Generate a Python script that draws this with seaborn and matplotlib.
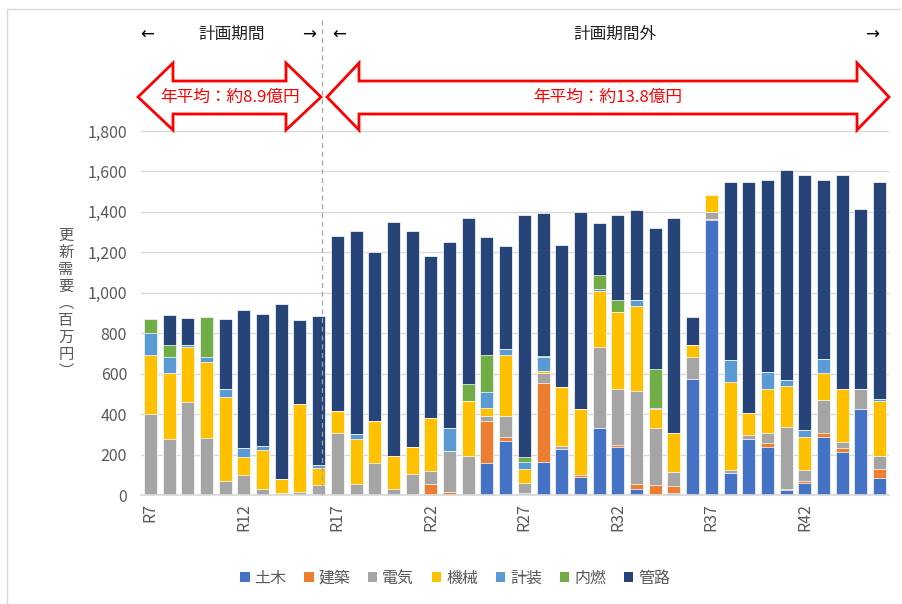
import numpy as np
import pandas as pd
import seaborn as sns
import matplotlib.pyplot as plt
from matplotlib.patches import Patch, Polygon
from matplotlib.lines import Line2D
from matplotlib.ticker import FuncFormatter

# === Data (百万円) R7 - R46
years = [f"R{i}" for i in range(7, 47)]

doboku = [0, 0, 0, 0, 0, 0, 0, 0, 0, 0,
          0, 0, 0, 0, 0, 0, 0, 0, 157, 268,
          12, 165, 226, 90, 329, 236, 31, 0, 8, 576,
          1358, 107, 275, 236, 25, 58, 288, 211, 423, 85]
kenchiku = [0, 0, 0, 0, 0, 0, 0, 0, 0, 0,
            0, 0, 0, 0, 5, 56, 13, 0, 210, 20,
            0, 390, 0, 7, 0, 13, 22, 49, 36, 0,
            8, 0, 0, 19, 5, 10, 20, 19, 0, 42]
denki = [403, 277, 461, 282, 71, 100, 31, 11, 16, 48,
         305, 53, 157, 30, 97, 64, 203, 194, 25, 104,
         46, 49, 18, 0, 404, 276, 462, 282, 71, 104,
         34, 17, 20, 50, 304, 56, 161, 33, 99, 66]
kikai = [288, 327, 272, 377, 415, 88, 190, 68, 434, 87,
         110, 224, 209, 163, 137, 259, 4, 272, 39, 300,
         72, 10, 288, 328, 276, 379, 419, 92, 190, 64,
         82, 436, 112, 220, 204, 164, 135, 259, 4, 271]
keiso = [111, 76, 8, 24, 36, 44, 23, 0, 0, 11,
         0, 24, 0, 0, 0, 0, 112, 0, 79, 28,
         31, 66, 0, 0, 11, 0, 28, 7, 0, 0,
         0, 110, 0, 83, 30, 33, 68, 0, 0, 12]
nainen = [66, 61, 0, 195, 0, 0, 0, 0, 0, 0,
          0, 0, 0, 0, 0, 0, 0, 82, 182, 0,
          25, 6, 0, 0, 67, 59, 0, 192, 0, 0,
          0, 0, 0, 0, 0, 0, 0, 0, 0, 0]
kanro = [0, 148, 132, 0, 346, 685, 653, 864, 414, 738,
         866, 1006, 834, 1156, 1068, 802, 919, 824, 583, 510,
         1197, 707, 703, 973, 258, 424, 446, 699, 1067, 134,
         0, 880, 1143, 952, 1038, 1262, 886, 1062, 887, 1074]

series_names = ["土木", "建築", "電気", "機械", "計装", "内燃", "管路"]
series_vals = [doboku, kenchiku, denki, kikai, keiso, nainen, kanro]
colors = ["#4472C4", "#ED7D31", "#A5A5A5", "#FFC000", "#5B9BD5", "#70AD47", "#264478"]

sns.set_theme(style="white")
plt.rcParams['font.family'] = ['Noto Sans CJK JP', 'DejaVu Sans']

df = pd.DataFrame(dict(zip(series_names, series_vals)), index=years)
cum = df.cumsum(axis=1)

fig = plt.figure(figsize=(9.02, 6.04), dpi=100)
W, H = 902, 604
ax = fig.add_axes([141 / W, 1 - 495 / H, 748 / W, 364 / H])

# === Stacked bars: draw cumulative layers from top to bottom
for name, col in reversed(list(zip(series_names, colors))):
    sns.barplot(x=years, y=cum[name].values, order=years, color=col, saturation=1,
                width=0.7, edgecolor="white", linewidth=0.5, ax=ax, zorder=3)

ax.set_ylim(0, 1800)
ax.set_xlim(-0.5, len(years) - 0.5)
ax.set_yticks(range(0, 1801, 200))
ax.yaxis.set_major_formatter(FuncFormatter(lambda v, p: f"{int(v):,}"))
ax.grid(axis="y", color="#D9D9D9", linewidth=1, zorder=0)
ax.set_axisbelow(True)
for s in ["top", "right", "left"]:
    ax.spines[s].set_visible(False)
ax.spines["bottom"].set_color("#D9D9D9")
ax.spines["bottom"].set_zorder(4)

tick_pos = list(range(0, len(years), 5))
ax.set_xticks(tick_pos)
ax.set_xticklabels([years[i] for i in tick_pos], rotation=90, fontsize=11.5, color="#595959")
ax.tick_params(axis="both", length=0, pad=6)
ax.tick_params(axis="y", labelsize=11.5, labelcolor="#595959", pad=10)
ax.set_xlabel("")
ax.set_ylabel("")

# y label, vertical text
fig.text(66 / W, 1 - 303 / H, "\n".join("更新需要︵百万円︶"), ha="center", va="center",
         fontsize=11, color="#595959", linespacing=1.0)

# === Divider between plan period and outside
fig.add_artist(Line2D([322 / W, 322 / W], [1 - 20 / H, 1 - 495 / H], color="#A6A6A6",
                      linestyle=(0, (4, 3)), linewidth=0.9))

# === Header annotations
def fx(x):
    return x / W

def fy(y):
    return 1 - y / H

for x, t in [(147, "←"), (309, "→"), (339, "←"), (872, "→")]:
    fig.text(fx(x), fy(35), t, ha="center", va="center", fontsize=12, color="black",
             family=["DejaVu Sans"])
fig.text(fx(232), fy(34), "計画期間", ha="center", va="center", fontsize=12, color="#222222")
fig.text(fx(615), fy(34), "計画期間外", ha="center", va="center", fontsize=12, color="#222222")


def double_arrow(x0, x1, head):
    yt, ys0, yc, ys1, yb = 63, 81, 97, 114, 130
    pts = [(x0, yc), (x0 + head, yt), (x0 + head, ys0), (x1 - head, ys0), (x1 - head, yt),
           (x1, yc), (x1 - head, yb), (x1 - head, ys1), (x0 + head, ys1), (x0 + head, yb)]
    pts = [(fx(a), fy(b)) for a, b in pts]
    fig.add_artist(Polygon(pts, closed=True, facecolor="white", edgecolor="#FF0000",
                           linewidth=2, transform=fig.transFigure, zorder=5))


double_arrow(138, 321, 35)
double_arrow(327, 889, 32)
fig.text(fx(230), fy(97), "年平均：約8.9億円", ha="center", va="center", fontsize=12,
         color="#FF0000", zorder=6)
fig.text(fx(608), fy(97), "年平均：約13.8億円", ha="center", va="center", fontsize=12,
         color="#FF0000", zorder=6)

# === Legend
handles = [Patch(facecolor=c, edgecolor="none", label=n) for n, c in zip(series_names, colors)]
fig.legend(handles=handles, loc="center", bbox_to_anchor=(fx(455), fy(578)), ncol=7,
           frameon=False, fontsize=11.5, handlelength=0.6, handleheight=0.6,
           handletextpad=0.3, columnspacing=1.1, labelcolor="#595959")

# chart area border
fig.add_artist(Line2D([fx(7), fx(7)], [fy(9), 0], color="#D9D9D9", linewidth=1))
fig.add_artist(Line2D([fx(7), fx(900)], [fy(9), fy(9)], color="#D9D9D9", linewidth=1))

fig.savefig("out.png", dpi=100)
